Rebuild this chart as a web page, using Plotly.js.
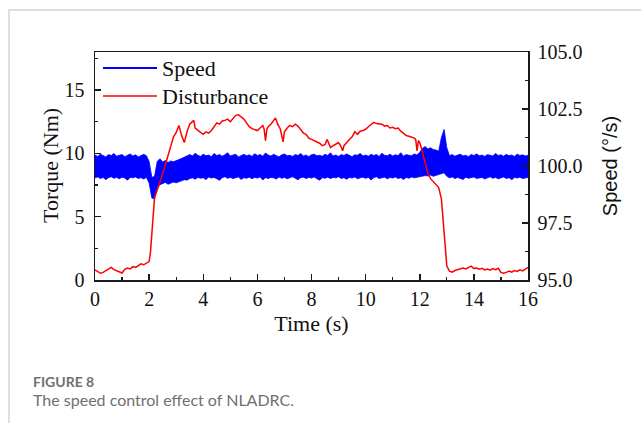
<!DOCTYPE html>
<html>
<head>
<meta charset="utf-8">
<script src="https://cdn.plot.ly/plotly-3.0.1.min.js"></script>
<style>
  html, body { margin: 0; padding: 0; background: #fff; }
  #wrap { position: relative; width: 641px; height: 423px; overflow: hidden; }
  #card { position: absolute; left: 8px; top: 9px; width: 640px; height: 420px;
          border-top: 2px solid #dedede; border-left: 2px solid #dedede; }
  #chart { position: absolute; left: 0; top: 0; width: 641px; height: 423px; }
</style>
</head>
<body>
<div id="wrap">
  <div id="card"></div>
  <div id="chart"></div>
</div>
<script>
// ---------------- data ----------------
// Speed band (°/s): upper and lower envelope sampled every 0.1 s from 0 to 16 s
const speedStep = 0.1;
const speedUpper = [
  100.48,100.42,100.52,100.45,100.40,100.50,100.46,100.55,100.43,100.47,
  100.50,100.41,100.46,100.53,100.44,100.49,100.40,100.47,100.51,100.45,
  100.20,99.50,99.55,100.20,100.32,100.18,100.24,100.15,100.22,100.19,
  100.25,100.28,100.33,100.38,100.45,100.50,100.44,100.56,100.47,100.42,
  100.52,100.45,100.48,100.41,100.55,100.46,100.50,100.43,100.49,100.58,
  100.44,100.48,100.52,100.40,100.47,100.51,100.45,100.49,100.42,100.54,
  100.46,100.50,100.43,100.57,100.48,100.44,100.51,100.46,100.40,100.49,
  100.53,100.45,100.47,100.42,100.50,100.46,100.55,100.44,100.48,100.41,
  100.49,100.52,100.45,100.47,100.43,100.51,100.46,100.58,100.44,100.48,
  100.42,100.50,100.46,100.53,100.45,100.41,100.49,100.47,100.55,100.44,
  100.48,100.43,100.51,100.46,100.50,100.42,100.56,100.47,100.45,100.52,
  100.44,100.49,100.46,100.58,100.43,100.50,100.47,100.45,100.53,100.48,
  100.60,100.78,100.85,100.75,100.80,100.72,100.70,100.65,101.25,101.60,
  100.80,100.45,100.50,100.43,100.48,100.52,100.44,100.47,100.41,100.50,
  100.46,100.53,100.45,100.48,100.42,100.50,100.47,100.44,100.55,100.46,
  100.49,100.43,100.51,100.45,100.48,100.42,100.52,100.46,100.49,100.44,
  100.47
];
const speedLower = [
  99.48,99.52,99.45,99.50,99.40,99.49,99.53,99.46,99.50,99.44,
  99.51,99.47,99.38,99.50,99.48,99.52,99.45,99.49,99.43,99.50,
  99.25,98.60,98.55,99.05,99.18,99.22,99.28,99.20,99.25,99.30,
  99.26,99.32,99.35,99.40,99.38,99.45,99.48,99.42,99.50,99.46,
  99.49,99.40,99.52,99.47,99.50,99.44,99.37,99.49,99.53,99.46,
  99.50,99.45,99.48,99.52,99.41,99.49,99.46,99.51,99.44,99.50,
  99.47,99.52,99.39,99.49,99.45,99.50,99.48,99.43,99.52,99.46,
  99.50,99.44,99.48,99.53,99.46,99.40,99.49,99.51,99.45,99.50,
  99.47,99.52,99.44,99.38,99.49,99.46,99.51,99.45,99.50,99.48,
  99.53,99.45,99.49,99.42,99.50,99.47,99.52,99.44,99.48,99.51,
  99.46,99.50,99.39,99.49,99.53,99.45,99.48,99.51,99.44,99.50,
  99.47,99.52,99.45,99.49,99.41,99.50,99.46,99.52,99.48,99.50,
  99.53,99.55,99.58,99.56,99.60,99.55,99.58,99.62,99.65,99.70,
  99.55,99.48,99.52,99.45,99.50,99.47,99.41,99.51,99.46,99.49,
  99.52,99.45,99.48,99.50,99.43,99.49,99.53,99.46,99.50,99.44,
  99.48,99.52,99.45,99.49,99.40,99.50,99.47,99.51,99.45,99.49,
  99.50
];
const speedTime = speedUpper.map((_, i) => +(i * speedStep).toFixed(2));

// Disturbance torque (Nm)
const distTime = [
  0,0.1,0.2,0.3,0.4,0.5,0.6,0.7,0.8,0.9,1.0,1.1,1.2,1.3,1.4,1.5,1.6,1.7,1.8,1.9,
  2.0,2.05,2.1,2.15,2.2,2.3,2.4,2.5,2.6,2.7,2.8,2.9,3.0,3.1,3.2,3.3,3.4,3.5,3.6,3.65,
  3.7,3.8,3.9,4.0,4.1,4.2,4.3,4.4,4.5,4.6,4.7,4.8,4.9,5.0,5.1,5.2,5.3,5.4,5.5,5.6,
  5.7,5.8,5.9,6.0,6.1,6.2,6.25,6.3,6.35,6.4,6.5,6.6,6.67,6.75,6.85,6.95,7.0,7.1,7.2,7.3,
  7.4,7.5,7.6,7.7,7.8,7.9,8.0,8.1,8.2,8.3,8.4,8.5,8.58,8.65,8.7,8.8,8.9,9.0,9.1,9.15,
  9.2,9.3,9.4,9.5,9.6,9.7,9.8,9.9,10.0,10.1,10.2,10.3,10.4,10.5,10.6,10.7,10.8,10.9,11.0,11.1,
  11.2,11.3,11.4,11.5,11.6,11.7,11.8,11.85,11.9,11.95,12.0,12.1,12.2,12.3,12.4,12.5,12.6,12.7,12.8,12.85,
  12.9,12.95,13.0,13.1,13.2,13.3,13.4,13.5,13.6,13.7,13.8,13.9,14.0,14.1,14.2,14.3,14.4,14.5,14.6,14.7,
  14.8,14.9,15.0,15.1,15.2,15.3,15.4,15.5,15.6,15.7,15.8,15.9,16.0
];
const distTorque = [
  0.79,0.68,0.53,0.60,0.74,0.90,1.00,0.82,0.75,0.62,0.55,0.85,0.95,0.88,1.06,1.00,1.15,1.27,1.20,1.32,
  1.45,2.20,3.80,5.50,6.50,7.10,7.70,8.40,9.10,9.80,10.60,11.30,11.65,12.20,11.40,10.85,11.70,12.30,12.50,12.60,
  12.00,11.80,11.65,11.50,11.70,11.60,11.80,12.10,12.40,12.30,12.55,12.60,12.70,12.50,12.80,13.00,13.05,12.85,12.70,12.40,
  12.10,11.95,11.85,11.80,12.00,12.20,11.90,11.00,11.90,12.10,12.30,12.55,12.80,12.30,11.90,10.90,11.70,12.00,12.20,12.10,
  12.30,12.15,11.90,11.60,11.50,11.20,11.10,11.00,10.85,10.80,10.60,10.70,11.10,10.60,10.45,10.60,10.75,10.85,10.50,10.20,
  10.60,10.90,11.10,11.30,11.70,11.50,11.75,11.80,11.90,12.10,12.25,12.44,12.35,12.30,12.30,12.15,12.20,12.00,12.05,11.95,
  12.00,11.75,11.60,11.40,11.35,11.30,11.20,11.10,10.20,11.00,10.85,10.10,9.30,8.40,8.00,7.75,7.55,7.30,6.40,5.00,
  3.40,2.20,1.10,0.70,0.62,0.75,0.80,0.90,0.95,0.88,1.00,1.10,0.90,0.95,0.85,0.92,0.80,0.86,0.78,0.90,
  0.82,0.93,0.60,0.53,0.60,0.70,0.62,0.74,0.68,0.80,0.72,0.85,1.00
];

const seriesNames = ['Speed', 'Disturbance'];
const seriesColors = ['#0000ff', '#ff0000'];
const xTickVals = [0,2,4,6,8,10,12,14,16];
const torqueTickVals = [0,5,10,15];
const speedTickVals = [95.0,97.5,100.0,102.5,105.0];

// ---------------- plot ----------------
const serif = 'Liberation Serif, Times New Roman, serif';
const sans = 'Liberation Sans, Arial, sans-serif';
const axisColor = '#1a1a1a';

const traces = [
  { x: speedTime, y: speedLower, type: 'scatter', mode: 'lines', yaxis: 'y',
    line: { color: seriesColors[0], width: 0.8 }, showlegend: false, hoverinfo: 'skip' },
  { x: speedTime, y: speedUpper, type: 'scatter', mode: 'lines', yaxis: 'y',
    fill: 'tonexty', fillcolor: seriesColors[0],
    line: { color: seriesColors[0], width: 0.8 }, name: seriesNames[0], showlegend: false },
  { x: distTime, y: distTorque, type: 'scatter', mode: 'lines', yaxis: 'y2',
    line: { color: seriesColors[1], width: 1.5 }, name: seriesNames[1], showlegend: false }
];

// plot area: x 95..528, y 52..280
const L = 95, R = 528, T = 52, B = 280, W = 641, H = 423;
const px = v => (v - L) / (R - L);
const py = v => (B - v) / (B - T);

const layout = {
  width: W, height: H,
  margin: { l: L, r: W - R, t: T, b: H - B, pad: 0 },
  paper_bgcolor: 'rgba(0,0,0,0)',
  plot_bgcolor: 'rgba(0,0,0,0)',
  showlegend: false,
  xaxis: {
    range: [0, 16], tickvals: xTickVals, ticks: 'inside', ticklen: 6, tickwidth: 1.5,
    tickcolor: axisColor, showline: true, linecolor: axisColor, linewidth: 1.5, mirror: true,
    showgrid: false, zeroline: false,
    minor: { dtick: 1, ticks: 'inside', ticklen: 3, tickwidth: 1.2, tickcolor: axisColor, showgrid: false },
    tickfont: { family: serif, size: 20, color: '#111' },
    title: { text: 'Time (s)', font: { family: serif, size: 22, color: '#111' }, standoff: 7 }
  },
  yaxis: {
    side: 'right', range: [95, 105], tickvals: speedTickVals, tickformat: '.1f',
    ticks: 'inside', ticklen: 6, tickwidth: 1.5, tickcolor: axisColor,
    showline: true, linecolor: axisColor, linewidth: 1.5,
    showgrid: false, zeroline: false,
    minor: { dtick: 1.25, ticks: 'inside', ticklen: 3, tickwidth: 1.2, tickcolor: axisColor, showgrid: false },
    tickfont: { family: serif, size: 20, color: '#111' },
    ticklabelstandoff: 4,
    title: { text: 'Speed (°/s)', font: { family: sans, size: 20, color: '#111' }, standoff: 21 }
  },
  yaxis2: {
    side: 'left', overlaying: 'y', range: [0, 18], tickvals: torqueTickVals,
    ticks: 'inside', ticklen: 6, tickwidth: 1.5, tickcolor: axisColor,
    showline: true, linecolor: axisColor, linewidth: 1.5,
    showgrid: false, zeroline: false,
    minor: { dtick: 2.5, ticks: 'inside', ticklen: 3, tickwidth: 1.2, tickcolor: axisColor, showgrid: false },
    tickfont: { family: serif, size: 20, color: '#111' },
    ticklabelstandoff: 5
  },
  shapes: [
    { type: 'line', xref: 'paper', yref: 'paper', x0: px(103), x1: px(157), y0: py(68), y1: py(68),
      line: { color: seriesColors[0], width: 2 } },
    { type: 'line', xref: 'paper', yref: 'paper', x0: px(103), x1: px(157), y0: py(96), y1: py(96),
      line: { color: seriesColors[1], width: 1.5 } }
  ],
  annotations: [
    { text: 'Torque (Nm)', xref: 'paper', yref: 'paper', x: px(50), y: py(166), xanchor: 'center', yanchor: 'middle',
      textangle: -90, showarrow: false, font: { family: serif, size: 22, color: '#111' } },
    { text: seriesNames[0], xref: 'paper', yref: 'paper', x: px(160), y: py(68), xanchor: 'left', yanchor: 'middle',
      showarrow: false, font: { family: serif, size: 22, color: '#111' } },
    { text: seriesNames[1], xref: 'paper', yref: 'paper', x: px(160), y: py(96), xanchor: 'left', yanchor: 'middle',
      showarrow: false, font: { family: serif, size: 22, color: '#111' } },
    { text: '<b>FIGURE 8</b>', xref: 'paper', yref: 'paper', x: px(31), y: py(381), xanchor: 'left', yanchor: 'middle',
      showarrow: false, font: { family: 'Lato, sans-serif', size: 14, color: '#707070' } },
    { text: 'The speed control effect of NLADRC.', xref: 'paper', yref: 'paper', x: px(31), y: py(399),
      xanchor: 'left', yanchor: 'middle',
      showarrow: false, font: { family: 'Lato, sans-serif', size: 16, color: '#707070' } }
  ]
};

Plotly.newPlot('chart', traces, layout, { staticPlot: true, displayModeBar: false });
</script>
</body>
</html>
